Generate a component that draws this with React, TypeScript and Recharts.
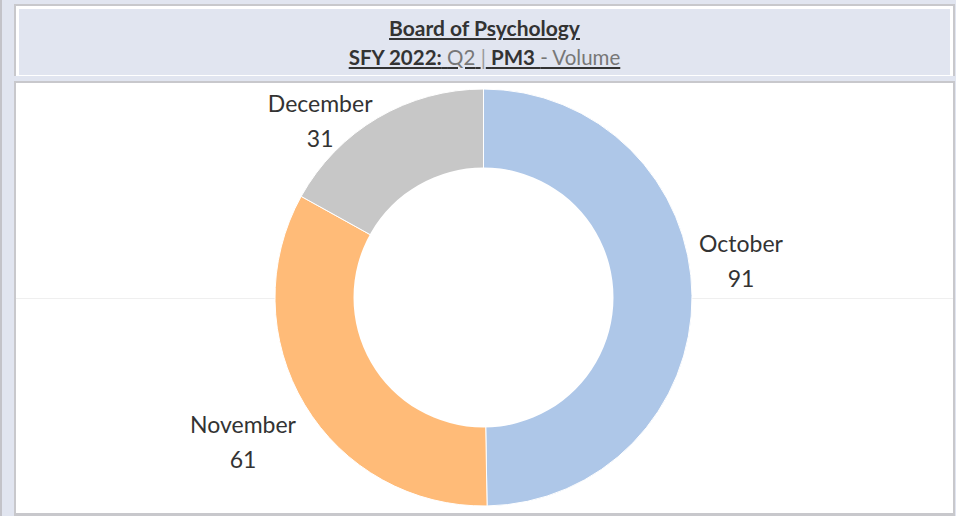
import { PieChart, Pie, Cell } from 'recharts'

const months = ['October', 'November', 'December']
const volumes = [91, 61, 31]
const colors = ['#aec7e8', '#ffbb78', '#c7c7c7']

const chartData = months.map((m, i) => ({ name: m, value: volumes[i] }))

// label nudges relative to radial placement (Tableau keeps labels in the pane)
const labelNudge: Record<string, { dx: number; dy: number }> = {
  October: { dx: -23, dy: -34 },
  November: { dx: 0, dy: 0 },
  December: { dx: -21, dy: 65 },
}

const RAD = Math.PI / 180
const FONT = 'Lato, "Noto Sans", sans-serif'

function renderLabel(props: any) {
  const { cx, cy, midAngle, outerRadius, name, value } = props
  const r = outerRadius + 72
  const nudge = labelNudge[name] || { dx: 0, dy: 0 }
  const x = cx + r * Math.cos(-midAngle * RAD) + nudge.dx
  const y = cy + r * Math.sin(-midAngle * RAD) + nudge.dy
  return (
    <text x={x} y={y} textAnchor="middle" fill="#333" fontSize={23} fontFamily={FONT}>
      <tspan x={x} dy={-9}>{name}</tspan>
      <tspan x={x} dy={35}>{value}</tspan>
    </text>
  )
}

export default function App() {
  return (
    <div style={{ position: 'absolute', left: 0, top: 0, width: 956, height: 516, background: '#e1e5f0', overflow: 'hidden', fontFamily: FONT }}>
      <div style={{ position: 'absolute', left: 0, top: 0, width: 2, height: 516, background: '#c3c3c9' }} />
      {/* header */}
      <div style={{ position: 'absolute', left: 14, top: 4, width: 941, height: 72, borderTop: '2px solid #c8c8cc', borderLeft: '2px solid #c8c8cc', borderRight: '2px solid #c8c8cc', background: '#fff', boxSizing: 'border-box' }}>
        <div style={{ position: 'absolute', left: 3, top: 3, right: 3, bottom: 1, background: '#e1e5f0', textAlign: 'center', color: '#333' }}>
          <div style={{ marginTop: 6, fontSize: 21, fontWeight: 700, lineHeight: '26px' }}>
            <span style={{ textDecoration: 'underline' }}>Board of Psychology</span>
          </div>
          <div style={{ marginTop: 4, fontSize: 20.5, lineHeight: '24px' }}>
            <span style={{ textDecoration: 'underline' }}>
              <b>SFY 2022:</b> <span style={{ color: '#777' }}>Q2</span>{' '}
              <span style={{ color: '#999' }}>|</span> <b>PM3</b>{' '}
              <span style={{ color: '#777' }}>- Volume</span>
            </span>
          </div>
        </div>
      </div>
      {/* chart pane */}
      <div style={{ position: 'absolute', left: 14, top: 81, width: 941, height: 435, border: '2px solid #c8c8cc', borderBottomWidth: 3, background: '#fff', boxSizing: 'border-box' }}>
        <div style={{ position: 'absolute', left: 0, right: 0, top: 215, height: 1, background: '#efefef' }} />
        <div style={{ position: 'absolute', left: 1, top: 0 }}>
          <PieChart width={934} height={429} margin={{ top: 0, right: 0, bottom: 0, left: 0 }}>
            <Pie
              data={chartData}
              dataKey="value"
              nameKey="name"
              cx={466.5}
              cy={214.5}
              innerRadius={0}
              outerRadius={208.5}
              startAngle={90}
              endAngle={-270}
              stroke="#fff"
              strokeWidth={1}
              label={renderLabel}
              labelLine={false}
              isAnimationActive={false}
            >
              {chartData.map((d, i) => (
                <Cell key={d.name} fill={colors[i]} />
              ))}
            </Pie>
            <Pie
              data={[{ name: 'hole', value: 1 }]}
              dataKey="value"
              cx={466.5}
              cy={214.5}
              innerRadius={0}
              outerRadius={130}
              fill="#fff"
              stroke="none"
              isAnimationActive={false}
            />
          </PieChart>
        </div>
      </div>
    </div>
  )
}
